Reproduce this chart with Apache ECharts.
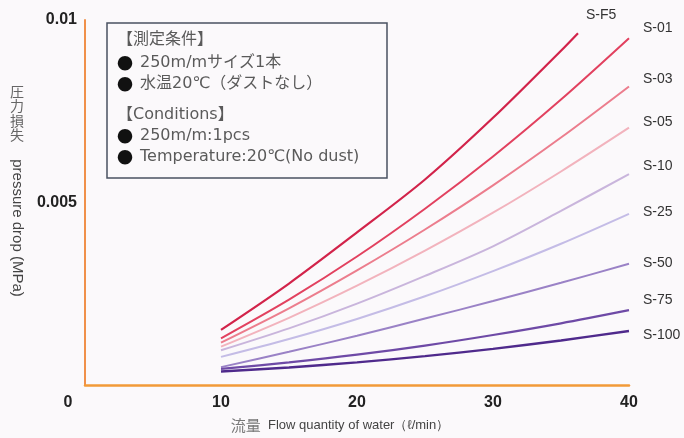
<!DOCTYPE html>
<html>
<head>
<meta charset="utf-8">
<script src="https://cdn.jsdelivr.net/npm/echarts@6/dist/echarts.min.js"></script>
<style>
html,body{margin:0;padding:0;background:#fbf9fb;}
#c{width:684px;height:438px;}
</style>
</head>
<body>
<div id="c"></div>
<script>
// ---- data (pressure drop in MPa vs flow in l/min) ----
var seriesNames = ['S-F5','S-01','S-03','S-05','S-10','S-25','S-50','S-75','S-100'];
var flow     = [10, 15, 20, 25, 30, 35, 40];
var flowSF5  = [10, 15, 20, 25, 30, 35, 36.25];
var pSF5  = [0.00151, 0.00278, 0.00418, 0.00563, 0.00732, 0.00916, 0.00964];
var pS01  = [0.00128, 0.00234, 0.00352, 0.00483, 0.00626, 0.00782, 0.00950];
var pS03  = [0.00116, 0.00210, 0.00314, 0.00426, 0.00547, 0.00678, 0.00818];
var pS05  = [0.00105, 0.00184, 0.00272, 0.00368, 0.00472, 0.00585, 0.00705];
var pS10  = [0.00095, 0.00155, 0.00223, 0.00299, 0.00380, 0.00477, 0.00578];
var pS25  = [0.00077, 0.00126, 0.00181, 0.00243, 0.00312, 0.00387, 0.00469];
var pS50  = [0.00049, 0.00091, 0.00135, 0.00182, 0.00230, 0.00280, 0.00332];
var pS75  = [0.00044, 0.00062, 0.00083, 0.00108, 0.00137, 0.00169, 0.00205];
var pS100 = [0.00037, 0.00048, 0.00062, 0.00079, 0.00099, 0.00122, 0.00148];
var pressure = [pSF5, pS01, pS03, pS05, pS10, pS25, pS50, pS75, pS100];
var xTicks = [0, 10, 20, 30, 40];
var yTicks = [0.005, 0.01];
var conditionLines = ['【測定条件】', '● 250m/mサイズ1本', '● 水温20℃（ダストなし）', '【Conditions】', '● 250m/m:1pcs', '● Temperature:20℃(No dust)'];

// ---- styles ----
var colors = ['#d2234a','#e2415f','#ec7d8d','#f2b3bd','#c9b5dc','#c4bce6','#9a82c6','#6e4aa6','#4f2a8c'];
var widths = [2.2, 2, 2, 2, 2, 2, 2, 2.2, 2.4];
var labelOffsets = [[0,-18],[6,-10],[6,-7],[6,-6],[6,-8],[6,-2],[6,-1],[6,-10],[6,4]];

var FONT = '"Liberation Sans", Arial, Helvetica, sans-serif';
var CJK = '"Noto Sans CJK JP", "Noto Sans", sans-serif';
var BOXFONT = '"DejaVu Sans", "Noto Sans CJK JP", sans-serif';

var series = seriesNames.map(function (name, i) {
  var xs = (i === 0) ? flowSF5 : flow;
  var d = xs.map(function (x, j) { return [x, pressure[i][j]]; });
  return {
    name: name,
    type: 'line',
    data: d,
    smooth: 0.3,
    symbol: 'none',
    lineStyle: { color: colors[i], width: widths[i] },
    itemStyle: { color: colors[i] },
    endLabel: {
      show: true,
      formatter: name,
      offset: labelOffsets[i],
      color: '#333',
      fontFamily: FONT,
      fontSize: 14
    },
    z: 3 + i
  };
});

var textEls = [];
var lineY = [42, 65, 86, 117, 138, 159];
conditionLines.forEach(function (t, i) {
  var txt = t;
  if (t.charAt(0) === '●') txt = '{b|●}' + t.slice(2);
  textEls.push({
    type: 'text',
    left: 117,
    top: lineY[i] - 10,
    style: {
      text: txt,
      font: '16px ' + BOXFONT,
      fill: '#5a5a5a',
      rich: { b: { fill: '#111', fontSize: 16, fontFamily: CJK, padding: [0, 7, 0, 0] } }
    }
  });
});

var chart = echarts.init(document.getElementById('c'));
chart.setOption({
  backgroundColor: '#fbf9fb',
  animation: false,
  grid: { left: 85, right: 55, top: 20, bottom: 51, containLabel: false },
  xAxis: {
    type: 'value',
    min: 0, max: 40, interval: 10,
    axisLine: { show: true, lineStyle: { color: '#f29a38', width: 2.5 } },
    axisTick: { show: false },
    splitLine: { show: false },
    axisLabel: {
      margin: 10,
      color: '#222',
      fontFamily: FONT,
      fontWeight: 'bold',
      fontSize: 16,
      formatter: function (v) {
        if (xTicks.indexOf(v) < 0) return '';
        return v === 0 ? '{z|0}' : String(v);
      },
      rich: { z: { padding: [0, 34, 0, 0], color: '#222', fontWeight: 'bold', fontSize: 16, fontFamily: FONT } }
    },
    name: '{c|流量}  Flow quantity of water（ℓ/min）',
    nameLocation: 'middle',
    nameGap: 33,
    nameTextStyle: {
      color: '#444',
      fontFamily: FONT,
      fontSize: 13,
      padding: [0, 34, 0, 0],
      rich: { c: { color: '#777', fontFamily: CJK, fontSize: 15 } }
    }
  },
  yAxis: {
    type: 'value',
    min: 0, max: 0.01, interval: 0.005,
    axisLine: { show: true, lineStyle: { color: '#f0904a', width: 2 } },
    axisTick: { show: false },
    splitLine: { show: false },
    axisLabel: {
      margin: 8,
      color: '#222',
      fontFamily: FONT,
      fontWeight: 'bold',
      fontSize: 16,
      formatter: function (v) {
        for (var k = 0; k < yTicks.length; k++) if (Math.abs(v - yTicks[k]) < 1e-9) return String(yTicks[k]);
        return '';
      }
    }
  },
  graphic: [
    {
      type: 'rect',
      shape: { x: 107, y: 23, width: 280, height: 155 },
      style: { fill: 'rgba(255,255,255,0)', stroke: '#4a5262', lineWidth: 1.5 },
      z: 10
    },
    {
      type: 'group',
      children: textEls,
      z: 10
    },
    {
      type: 'text',
      left: 10,
      top: 84,
      style: { text: '圧\n力\n損\n失', font: '14px ' + CJK, fill: '#666', lineHeight: 14.5, align: 'center' }
    },
    {
      type: 'text',
      x: 17,
      y: 228,
      rotation: -Math.PI / 2,
      style: { text: 'pressure drop (MPa)', font: '15px ' + FONT, fill: '#444', align: 'center', verticalAlign: 'middle' }
    }
  ],
  series: series
});
</script>
</body>
</html>
